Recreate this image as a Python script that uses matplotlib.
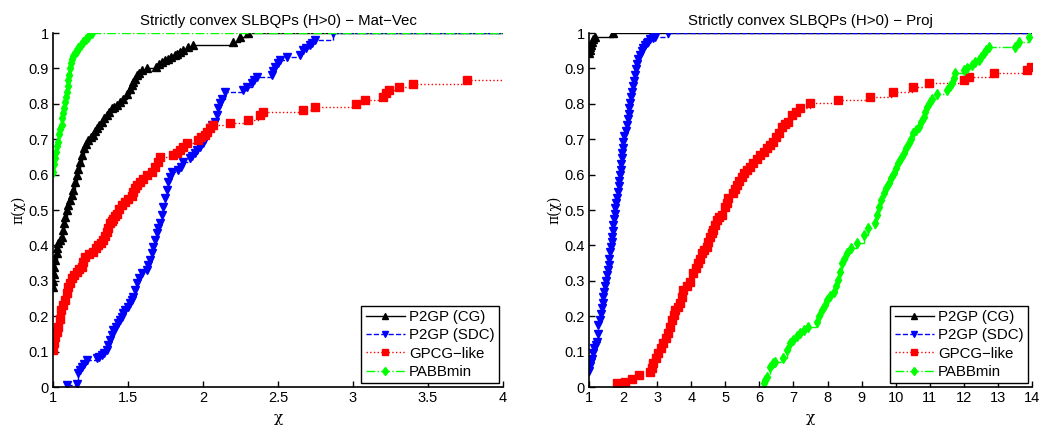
import matplotlib
matplotlib.use('Agg')
import matplotlib.pyplot as plt

# ---- data (performance profiles), (chi, pi) pairs ----
# left panel: Mat-Vec
mv_cg = [(1.000, 0.283), (1.002, 0.30), (1.005, 0.32), (1.009, 0.34), (1.016, 0.36), (1.024, 0.378), (1.030, 0.392),
         (1.036, 0.406), (1.047, 0.415), (1.058, 0.425), (1.066, 0.443), (1.075, 0.462), (1.083, 0.48), (1.091, 0.50),
         (1.102, 0.514), (1.113, 0.528), (1.125, 0.543), (1.136, 0.556), (1.147, 0.58), (1.158, 0.599), (1.169, 0.617),
         (1.18, 0.636), (1.195, 0.655), (1.209, 0.674), (1.222, 0.686), (1.236, 0.698), (1.252, 0.705), (1.269, 0.712),
         (1.28, 0.722), (1.291, 0.731), (1.308, 0.74), (1.325, 0.75), (1.341, 0.759), (1.358, 0.768), (1.375, 0.778),
         (1.391, 0.787), (1.408, 0.792), (1.425, 0.797), (1.447, 0.806), (1.469, 0.815), (1.491, 0.829), (1.513, 0.843),
         (1.525, 0.852), (1.536, 0.862), (1.547, 0.871), (1.558, 0.881), (1.575, 0.888), (1.591, 0.895), (1.625, 0.90),
         (1.69, 0.905), (1.708, 0.912), (1.725, 0.919), (1.747, 0.924), (1.769, 0.928), (1.79, 0.933), (1.813, 0.938),
         (1.83, 0.942), (1.847, 0.947), (1.87, 0.952), (1.9, 0.96), (1.936, 0.966), (2.2, 0.975), (2.247, 0.99),
         (2.30, 1.0)]
mv_sdc = [(1.091, 0.005), (1.158, 0.008), (1.169, 0.039), (1.18, 0.048), (1.191, 0.057), (1.208, 0.066), (1.225, 0.076),
          (1.291, 0.081), (1.308, 0.085), (1.325, 0.09), (1.341, 0.097), (1.358, 0.105), (1.369, 0.119), (1.38, 0.133),
          (1.391, 0.147), (1.402, 0.161), (1.419, 0.17), (1.436, 0.18), (1.447, 0.19), (1.458, 0.199), (1.469, 0.208),
          (1.48, 0.218), (1.497, 0.227), (1.513, 0.236), (1.525, 0.245), (1.536, 0.255), (1.547, 0.274), (1.558, 0.293),
          (1.575, 0.307), (1.591, 0.321), (1.625, 0.33), (1.636, 0.345), (1.647, 0.359), (1.658, 0.378), (1.669, 0.396),
          (1.68, 0.415), (1.691, 0.434), (1.702, 0.448), (1.713, 0.462), (1.725, 0.486), (1.736, 0.509), (1.747, 0.533),
          (1.758, 0.556), (1.769, 0.58), (1.78, 0.594), (1.791, 0.608), (1.836, 0.613), (1.852, 0.622), (1.869, 0.636),
          (1.913, 0.646), (1.93, 0.653), (1.947, 0.66), (1.963, 0.67), (1.98, 0.679), (1.997, 0.69), (2.013, 0.702),
          (2.03, 0.716), (2.047, 0.731), (2.063, 0.74), (2.08, 0.75), (2.091, 0.768), (2.102, 0.787), (2.113, 0.801),
          (2.125, 0.815), (2.147, 0.834), (2.269, 0.838), (2.291, 0.848), (2.325, 0.858), (2.341, 0.867), (2.358, 0.877),
          (2.458, 0.881), (2.469, 0.893), (2.48, 0.905), (2.497, 0.914), (2.513, 0.924), (2.558, 0.933), (2.647, 0.938),
          (2.669, 0.952), (2.69, 0.959), (2.713, 0.966), (2.73, 0.973), (2.747, 0.98), (2.864, 1.0)]
mv_gpcg = [(1.0, 0.105), (1.007, 0.124), (1.013, 0.142), (1.025, 0.156), (1.036, 0.17), (1.045, 0.193), (1.053, 0.217),
           (1.066, 0.232), (1.08, 0.246), (1.091, 0.265), (1.102, 0.283), (1.113, 0.295), (1.125, 0.307), (1.141, 0.317),
           (1.158, 0.326), (1.175, 0.333), (1.191, 0.34), (1.202, 0.354), (1.213, 0.368), (1.241, 0.375), (1.269, 0.382),
           (1.285, 0.392), (1.302, 0.401), (1.319, 0.408), (1.336, 0.415), (1.347, 0.427), (1.358, 0.439), (1.369, 0.45),
           (1.38, 0.462), (1.391, 0.469), (1.402, 0.476), (1.413, 0.483), (1.425, 0.49), (1.441, 0.502), (1.458, 0.514),
           (1.48, 0.523), (1.503, 0.53), (1.525, 0.54), (1.536, 0.552), (1.547, 0.561), (1.558, 0.571), (1.58, 0.58),
           (1.602, 0.589), (1.63, 0.598), (1.658, 0.606), (1.68, 0.621), (1.702, 0.636), (1.713, 0.651), (1.802, 0.655),
           (1.825, 0.662), (1.847, 0.669), (1.869, 0.679), (1.891, 0.688), (1.969, 0.698), (1.99, 0.705), (2.013, 0.712),
           (2.03, 0.721), (2.047, 0.731), (2.069, 0.74), (2.18, 0.745), (2.302, 0.754), (2.38, 0.768), (2.402, 0.776),
           (2.669, 0.782), (2.747, 0.792), (3.02, 0.80), (3.08, 0.81), (3.20, 0.82), (3.22, 0.83), (3.24, 0.839),
           (3.31, 0.847), (3.40, 0.855), (3.76, 0.866)]
mv_pabb = [(1.000, 0.608), (1.005, 0.63), (1.012, 0.646), (1.02, 0.665), (1.028, 0.68), (1.035, 0.693), (1.042, 0.715),
           (1.05, 0.728), (1.058, 0.74), (1.063, 0.76), (1.07, 0.775), (1.075, 0.787), (1.08, 0.805), (1.086, 0.82),
           (1.091, 0.834), (1.097, 0.85), (1.102, 0.866), (1.107, 0.881), (1.113, 0.9), (1.12, 0.915), (1.125, 0.928),
           (1.135, 0.935), (1.147, 0.943), (1.158, 0.95), (1.169, 0.957), (1.185, 0.966), (1.202, 0.975), (1.22, 0.983),
           (1.236, 0.99), (1.258, 1.0)]

# right panel: Proj
pj_cg = [(1.0, 0.943), (1.02, 0.952), (1.04, 0.96), (1.06, 0.967), (1.09, 0.975), (1.13, 0.982), (1.18, 0.99), (1.71, 1.0)]
pj_sdc = [(1.0, 0.045), (1.03, 0.06), (1.06, 0.07), (1.09, 0.08), (1.127, 0.095), (1.16, 0.11), (1.19, 0.12), (1.225, 0.128),
          (1.25, 0.15), (1.274, 0.175), (1.31, 0.19), (1.34, 0.205), (1.373, 0.222), (1.40, 0.238), (1.42, 0.253),
          (1.44, 0.269), (1.47, 0.285), (1.50, 0.30), (1.52, 0.316), (1.55, 0.33), (1.575, 0.345), (1.597, 0.363),
          (1.625, 0.38), (1.645, 0.395), (1.667, 0.41), (1.685, 0.425), (1.70, 0.44), (1.714, 0.458), (1.73, 0.475),
          (1.75, 0.49), (1.764, 0.505), (1.80, 0.52), (1.83, 0.535), (1.86, 0.552), (1.875, 0.568), (1.89, 0.583),
          (1.91, 0.599), (1.925, 0.614), (1.94, 0.63), (1.96, 0.646), (1.975, 0.66), (1.99, 0.676), (2.01, 0.693),
          (2.04, 0.708), (2.075, 0.724), (2.107, 0.74), (2.13, 0.756), (2.16, 0.771), (2.184, 0.787), (2.21, 0.803),
          (2.23, 0.818), (2.254, 0.834), (2.29, 0.85), (2.32, 0.865), (2.35, 0.881), (2.38, 0.897), (2.41, 0.912),
          (2.448, 0.928), (2.50, 0.938), (2.55, 0.948), (2.595, 0.957), (2.645, 0.966), (2.70, 0.971), (2.742, 0.975),
          (2.80, 0.982), (2.87, 0.986), (2.938, 0.99), (3.33, 1.0)]
pj_gpcg = [(1.813, 0.01), (2.057, 0.015), (2.254, 0.024), (2.477, 0.034), (2.79, 0.043), (2.84, 0.055), (2.888, 0.067),
           (2.96, 0.081), (3.035, 0.095), (3.11, 0.109), (3.182, 0.123), (3.26, 0.138), (3.33, 0.152), (3.38, 0.17),
           (3.428, 0.189), (3.48, 0.203), (3.526, 0.217), (3.6, 0.227), (3.672, 0.236), (3.72, 0.255), (3.77, 0.274),
           (3.87, 0.286), (3.966, 0.297), (4.063, 0.321), (4.14, 0.335), (4.21, 0.349), (4.26, 0.363), (4.31, 0.378),
           (4.38, 0.387), (4.457, 0.396), (4.5, 0.41), (4.554, 0.425), (4.6, 0.434), (4.65, 0.443), (4.7, 0.457),
           (4.75, 0.472), (4.82, 0.479), (4.897, 0.486), (4.994, 0.509), (5.04, 0.521), (5.09, 0.533), (5.238, 0.547),
           (5.29, 0.559), (5.337, 0.571), (5.41, 0.583), (5.484, 0.594), (5.56, 0.604), (5.63, 0.613), (5.73, 0.622),
           (5.826, 0.632), (5.92, 0.643), (6.02, 0.655), (6.12, 0.665), (6.22, 0.674), (6.31, 0.684), (6.413, 0.693),
           (6.49, 0.705), (6.56, 0.717), (6.66, 0.735), (6.76, 0.742), (6.853, 0.75), (6.953, 0.768), (7.07, 0.778),
           (7.197, 0.787), (7.49, 0.801), (8.32, 0.81), (9.25, 0.82), (9.92, 0.834), (10.5, 0.848), (10.97, 0.858),
           (11.99, 0.867), (12.14, 0.877), (12.87, 0.886), (13.85, 0.895), (13.98, 0.905)]
pj_pabb = [(6.12, 0.01), (6.17, 0.02), (6.22, 0.029), (6.316, 0.057), (6.41, 0.067), (6.46, 0.071), (6.706, 0.081),
           (6.806, 0.105), (6.9, 0.123), (7.0, 0.133), (7.1, 0.143), (7.197, 0.152), (7.32, 0.161), (7.44, 0.17),
           (7.687, 0.184), (7.76, 0.2), (7.834, 0.217), (7.91, 0.232), (7.98, 0.246), (8.08, 0.257), (8.175, 0.269),
           (8.25, 0.285), (8.32, 0.302), (8.37, 0.325), (8.42, 0.349), (8.49, 0.363), (8.568, 0.378), (8.7, 0.392),
           (8.862, 0.406), (9.055, 0.429), (9.2, 0.448), (9.4, 0.462), (9.45, 0.485), (9.497, 0.509), (9.57, 0.528),
           (9.643, 0.547), (9.72, 0.561), (9.79, 0.575), (9.86, 0.59), (9.937, 0.604), (10.01, 0.618), (10.08, 0.632),
           (10.15, 0.646), (10.23, 0.66), (10.3, 0.674), (10.38, 0.688), (10.45, 0.702), (10.52, 0.717), (10.6, 0.726),
           (10.67, 0.735), (10.75, 0.749), (10.82, 0.763), (10.87, 0.778), (10.92, 0.792), (11.0, 0.804), (11.06, 0.815),
           (11.21, 0.829), (11.5, 0.839), (11.58, 0.849), (11.65, 0.858), (11.7, 0.872), (11.75, 0.886), (11.99, 0.895),
           (12.1, 0.902), (12.24, 0.91), (12.33, 0.917), (12.43, 0.924), (12.5, 0.933), (12.58, 0.943), (12.65, 0.952),
           (12.73, 0.961), (13.51, 0.961), (13.61, 0.975), (13.9, 0.99)]

labels = ['P2GP (CG)', 'P2GP (SDC)', 'GPCG\u2212like', 'PABBmin']
colors = ['black', 'blue', 'red', '#00ff00']
styles = ['-', '--', ':', '-.']
markers = ['^', 'v', 's', 'd']

plt.rcParams['font.family'] = ['Liberation Sans', 'DejaVu Sans']
plt.rcParams['font.size'] = 10

fig = plt.figure(figsize=(10.47, 4.26), dpi=100)
ax1 = fig.add_axes([0.0506, 0.0915, 0.4298, 0.831])
ax2 = fig.add_axes([0.5626, 0.0915, 0.4231, 0.831])

panels = [
    (ax1, [mv_cg, mv_sdc, mv_gpcg, mv_pabb], 4, [1, 1.5, 2, 2.5, 3, 3.5, 4],
     'Strictly convex SLBQPs (H>0) \u2212 Mat\u2212Vec'),
    (ax2, [pj_cg, pj_sdc, pj_gpcg, pj_pabb], 14, list(range(1, 15)),
     'Strictly convex SLBQPs (H>0) \u2212 Proj'),
]

for ax, series, xmax, xt, title in panels:
    handles = []
    for pts, c, ls, mk, lab in zip(series, colors, styles, markers, labels):
        x = [p[0] for p in pts]
        y = [p[1] for p in pts]
        h, = ax.step(x, y, where='post', color=c, ls=ls, lw=1.0, marker=mk,
                     ms=5.6, mfc=c, mec=c, label=lab)
        # profile stays flat up to the right edge
        ax.plot([x[-1], xmax], [y[-1], y[-1]], color=c, ls=ls, lw=1.0)
        handles.append(h)
    ax.set_xlim(1, xmax)
    ax.set_ylim(0, 1)
    ax.set_xticks(xt)
    ax.set_xticklabels(['%g' % v for v in xt])
    yt = [i / 10 for i in range(11)]
    ax.set_yticks(yt)
    ax.set_yticklabels(['%g' % v for v in yt])
    ax.spines['top'].set_visible(False)
    ax.spines['right'].set_visible(False)
    ax.spines['left'].set_linewidth(1.2)
    ax.spines['bottom'].set_linewidth(1.2)
    ax.tick_params(direction='in', length=4, width=1, labelsize=10.5, pad=3)
    ax.set_title(title, fontsize=10.8, pad=6)
    ax.set_xlabel('\u03c7', fontsize=11, labelpad=4, family='DejaVu Serif')
    ax.set_ylabel('\u03c0(\u03c7)', fontsize=10, labelpad=2, family='DejaVu Serif')
    leg = ax.legend(handles=handles, loc='lower right', fontsize=10.8, frameon=True, fancybox=False,
                    edgecolor='black', framealpha=1, borderpad=0.3, labelspacing=0.28,
                    handlelength=2.6, handletextpad=0.3, borderaxespad=0.25, markerscale=0.8)
    leg.get_frame().set_linewidth(1.0)

fig.savefig('out.png', dpi=100)
